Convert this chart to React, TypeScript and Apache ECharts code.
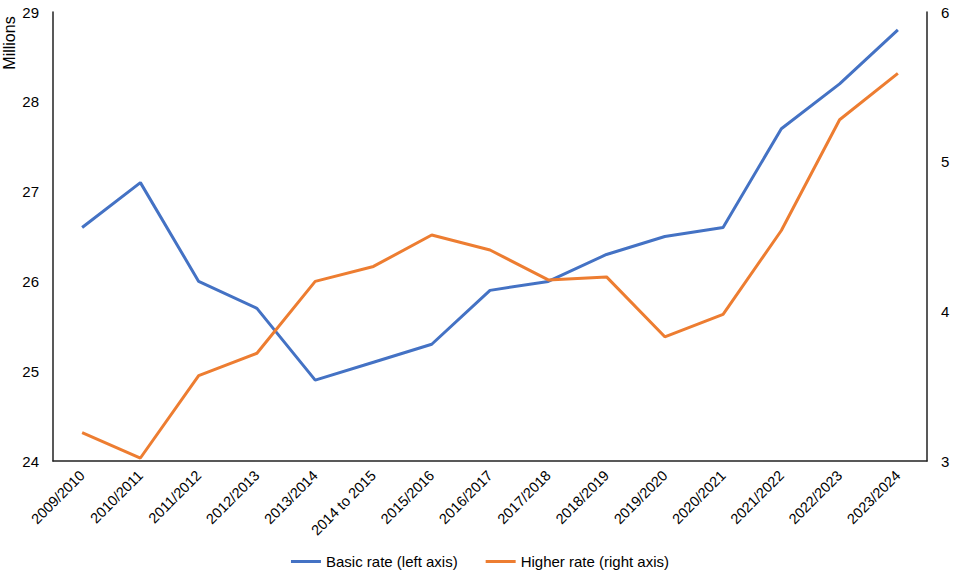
import React, { useEffect, useRef } from "react";
import * as echarts from "echarts";

const categories = [
  "2009/2010", "2010/2011", "2011/2012", "2012/2013", "2013/2014",
  "2014 to 2015", "2015/2016", "2016/2017", "2017/2018", "2018/2019",
  "2019/2020", "2020/2021", "2021/2022", "2022/2023", "2023/2024",
];

const basicRate = [26.6, 27.1, 26.0, 25.7, 24.9, 25.1, 25.3, 25.9, 26.0, 26.3, 26.5, 26.6, 27.7, 28.2, 28.8];
const higherRate = [3.19, 3.02, 3.57, 3.72, 4.2, 4.3, 4.51, 4.41, 4.21, 4.23, 3.83, 3.98, 4.54, 5.28, 5.59];

const basicName = "Basic rate (left axis)";
const higherName = "Higher rate (right axis)";
const leftAxisTitle = "Millions";

const FONT = "Liberation Sans, Arial, Helvetica, sans-serif";

export default function App() {
  const ref = useRef<HTMLDivElement>(null);

  useEffect(() => {
    if (!ref.current) return;
    const chart = echarts.init(ref.current, undefined, { renderer: "svg" });
    chart.setOption({
      animation: false,
      backgroundColor: "#ffffff",
      textStyle: { fontFamily: FONT },
      grid: { left: 53, right: 33, top: 12, bottom: 116, containLabel: false },
      legend: {
        bottom: 3,
        left: "center",
        icon: "rect",
        itemWidth: 30,
        itemHeight: 3,
        itemGap: 28,
        textStyle: { fontFamily: FONT, fontSize: 15, color: "#000" },
        data: [basicName, higherName],
      },
      graphic: [
        {
          type: "text",
          x: 9,
          y: 43,
          rotation: Math.PI / 2,
          style: {
            text: leftAxisTitle,
            fontFamily: FONT,
            fontSize: 16,
            fill: "#000",
            align: "center",
            verticalAlign: "middle",
          },
        },
      ],
      xAxis: {
        type: "category",
        data: categories,
        boundaryGap: true,
        axisLine: { show: true, lineStyle: { color: "#222", width: 1.5 } },
        axisTick: { show: false },
        axisLabel: {
          rotate: 45,
          interval: 0,
          margin: 12,
          fontSize: 14.5,
          color: "#000",
          fontFamily: FONT,
        },
        splitLine: { show: false },
      },
      yAxis: [
        {
          type: "value",
          min: 24,
          max: 29,
          interval: 1,
          position: "left",
          axisLine: { show: true, lineStyle: { color: "#222", width: 1.5 } },
          axisTick: { show: false },
          axisLabel: { margin: 14, fontSize: 15, color: "#000", fontFamily: FONT },
          splitLine: { show: false },
        },
        {
          type: "value",
          min: 3,
          max: 6,
          interval: 1,
          position: "right",
          axisLine: { show: true, lineStyle: { color: "#222", width: 1.5 } },
          axisTick: { show: false },
          axisLabel: { margin: 14, fontSize: 15, color: "#000", fontFamily: FONT },
          splitLine: { show: false },
        },
      ],
      series: [
        {
          name: basicName,
          type: "line",
          yAxisIndex: 0,
          data: basicRate,
          showSymbol: false,
          symbol: "none",
          lineStyle: { color: "#4472C4", width: 3 },
          itemStyle: { color: "#4472C4" },
        },
        {
          name: higherName,
          type: "line",
          yAxisIndex: 1,
          data: higherRate,
          showSymbol: false,
          symbol: "none",
          lineStyle: { color: "#ED7D31", width: 3 },
          itemStyle: { color: "#ED7D31" },
        },
      ],
    });
    return () => chart.dispose();
  }, []);

  return (
    <div
      ref={ref}
      style={{ position: "fixed", left: 0, top: 0, width: 960, height: 577, background: "#fff" }}
    />
  );
}
